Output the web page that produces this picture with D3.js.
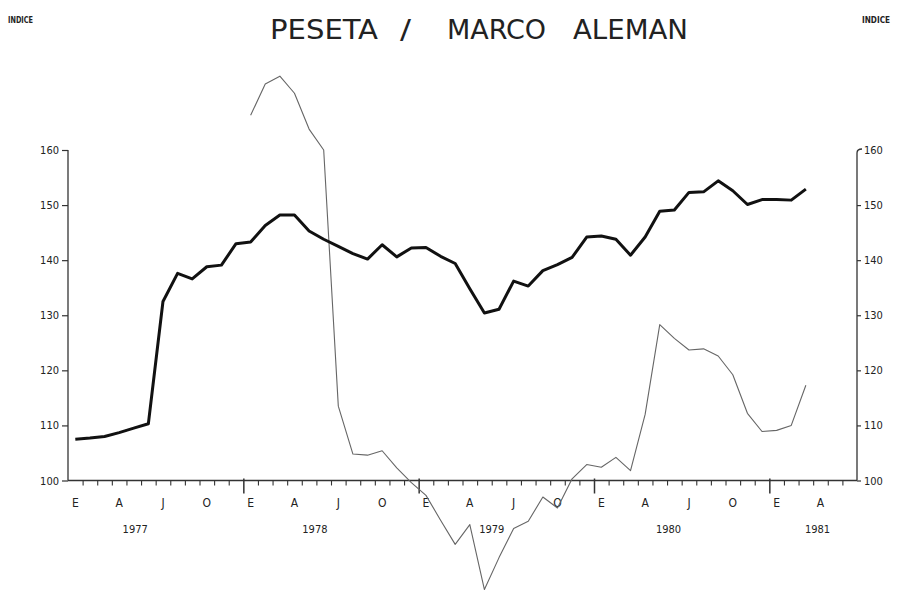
<!DOCTYPE html>
<html>
<head>
<meta charset="utf-8">
<script src="https://cdn.jsdelivr.net/npm/d3@7"></script>
<style>
html,body{margin:0;padding:0;background:#fff;}
svg{display:block;}
text{font-family:"DejaVu Sans Condensed","DejaVu Sans",sans-serif;font-stretch:condensed;fill:#222;}
</style>
</head>
<body>
<svg id="chart" width="906" height="594"></svg>
<script>
// ---- data ----
const title = ["PESETA", "/", "MARCO", "ALEMAN"];
const axisTitle = "INDICE";
const yTicks = [100, 110, 120, 130, 140, 150, 160];
const monthLetters = ["E", "A", "J", "O"];        // Enero, Abril, Julio, Octubre
const years = ["1977", "1978", "1979", "1980", "1981"];
const yearLabelMonth = [4.6, 16.9, 29.0, 41.1, 51.3];
const totalMonths = 54;                            // Jan 1977 .. Jun 1981
// month index 0 = Jan 1977
const indiceThick = [107.5, 107.7, 108.0, 108.7, 109.5, 110.3, 132.5, 137.6, 136.6, 138.8, 139.1, 143.0,
  143.3, 146.3, 148.2, 148.2, 145.3, 143.8, 142.5, 141.2, 140.2, 142.8, 140.6, 142.2,
  142.3, 140.7, 139.4, 134.8, 130.4, 131.1, 136.2, 135.3, 138.1, 139.2, 140.5, 144.2,
  144.4, 143.8, 140.9, 144.2, 148.9, 149.1, 152.3, 152.4, 154.4, 152.6, 150.1, 151.0,
  151.0, 150.9, 152.9];
const thinStart = 12;                              // Jan 1978
const indiceThin = [166.3, 172.0, 173.4, 170.3, 163.8, 160.0, 113.5, 104.8, 104.6, 105.4, 102.3, 99.6,
  97.3, 92.8, 88.4, 92.0, 80.2, 86.0, 91.3, 92.6, 97.0, 95.0, 100.3, 102.9,
  102.4, 104.2, 101.8, 112.0, 128.3, 125.8, 123.7, 123.9, 122.6, 119.2, 112.2, 108.9,
  109.1, 110.0, 117.3];

// ---- layout ----
const svg = d3.select("#chart");
const x = d3.scaleLinear().domain([0, totalMonths]).range([68, 857]);
const y = d3.scaleLinear().domain([100, 160]).range([480.5, 150]);
const axisColor = "#333";

// Title
const titleBoxes = [[270, 378], [400, 411], [447, 546], [573, 688]];
svg.selectAll("text.title").data(title).join("text")
  .attr("class", "title")
  .attr("x", (d, i) => titleBoxes[i][0])
  .attr("y", 39)
  .attr("font-size", 27)
  .attr("textLength", (d, i) => titleBoxes[i][1] - titleBoxes[i][0])
  .attr("lengthAdjust", "spacingAndGlyphs")
  .text(d => d);

svg.append("text").attr("x", 8).attr("y", 23).attr("font-size", 8).attr("font-weight", "bold")
  .attr("textLength", 25).attr("lengthAdjust", "spacingAndGlyphs").text(axisTitle);
svg.append("text").attr("x", 862).attr("y", 23).attr("font-size", 8).attr("font-weight", "bold")
  .attr("textLength", 28).attr("lengthAdjust", "spacingAndGlyphs").text(axisTitle);

// Left axis
const leftAxis = d3.axisLeft(y).tickValues(yTicks).tickSize(6).tickPadding(3).tickFormat(d3.format("d"));
const gL = svg.append("g").attr("transform", `translate(${x(0)},0)`).call(leftAxis);
gL.select(".domain").attr("stroke", axisColor).attr("stroke-width", 1.3).attr("d", `M0,${y(160)}V${y(100)}`);
gL.selectAll(".tick line").attr("stroke", axisColor).attr("stroke-width", 1.2);
gL.selectAll(".tick text").attr("font-size", 11).attr("fill", "#333")
  .style("font-family", '"DejaVu Sans Condensed","DejaVu Sans",sans-serif');

// Right axis
const rightAxis = d3.axisRight(y).tickValues(yTicks.filter(v => v < 160)).tickSize(4).tickPadding(3).tickFormat(d3.format("d"));
const gR = svg.append("g").attr("transform", `translate(${x(totalMonths)},0)`).call(rightAxis);
gR.select(".domain").attr("stroke", axisColor).attr("stroke-width", 1.3)
  .attr("fill", "none")
  .attr("d", `M0,${y(100)}V${y(160) + 3}Q0,${y(160) - 1} 5,${y(160) - 1}`);
gR.selectAll(".tick line").attr("stroke", axisColor).attr("stroke-width", 1.2);
gR.selectAll(".tick text").attr("font-size", 11).attr("fill", "#333")
  .style("font-family", '"DejaVu Sans Condensed","DejaVu Sans",sans-serif');
gR.append("text").attr("x", 7).attr("y", y(160)).attr("dy", "0.35em").attr("font-size", 11)
  .attr("fill", "#333").text("160");

// Bottom axis: monthly ticks
const monthTicks = d3.range(1, totalMonths);
const bottomAxis = d3.axisBottom(x).tickValues(monthTicks).tickSize(5).tickFormat("");
const gB = svg.append("g").attr("transform", `translate(0,${y(100)})`).call(bottomAxis);
gB.select(".domain").attr("stroke", axisColor).attr("stroke-width", 1.3).attr("d", `M${x(0)},0H${x(totalMonths)}`);
gB.selectAll(".tick line")
  .attr("stroke", axisColor)
  .attr("stroke-width", d => d % 12 === 0 ? 1.5 : 1.1)
  .attr("y1", d => d % 12 === 0 ? -2 : 0)
  .attr("y2", d => d % 12 === 0 ? 13 : 5);

// Month letters (centred in each labelled month)
const labelMonths = d3.range(0, totalMonths, 3);
svg.selectAll("text.month").data(labelMonths).join("text")
  .attr("class", "month")
  .attr("x", d => x(d + 0.5))
  .attr("y", 507)
  .attr("text-anchor", "middle")
  .attr("font-size", 12)
  .attr("fill", "#333")
  .text(d => monthLetters[(d / 3) % 4]);

// Year labels
svg.selectAll("text.year").data(years).join("text")
  .attr("class", "year")
  .attr("x", (d, i) => x(yearLabelMonth[i]))
  .attr("y", 533)
  .attr("text-anchor", "middle")
  .attr("font-size", 11)
  .attr("fill", "#333")
  .text(d => d);

// Lines
const line = d3.line().x(d => x(d.m + 0.5)).y(d => y(d.v));
const thinData = indiceThin.map((v, i) => ({m: thinStart + i, v}));
const thickData = indiceThick.map((v, i) => ({m: i, v}));

svg.append("path").datum(thinData)
  .attr("fill", "none").attr("stroke", "#666").attr("stroke-width", 1.1)
  .attr("stroke-linejoin", "round").attr("d", line);

svg.append("path").datum(thickData)
  .attr("fill", "none").attr("stroke", "#111").attr("stroke-width", 3)
  .attr("stroke-linejoin", "round").attr("d", line);
</script>
</body>
</html>
